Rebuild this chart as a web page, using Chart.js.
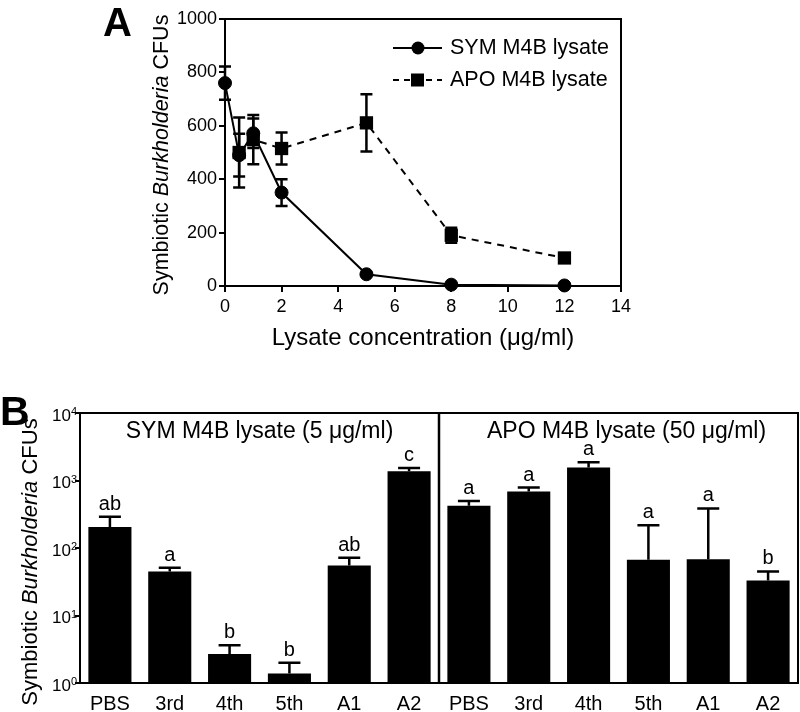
<!DOCTYPE html>
<html>
<head>
<meta charset="utf-8">
<script src="https://cdn.jsdelivr.net/npm/chart.js@4.4.0/dist/chart.umd.min.js"></script>
<style>
    body { margin: 0; background: #fff; }
    #wrap { position: relative; width: 800px; height: 712px; }
    #boxA { position: absolute; left: 0; top: 0; width: 800px; height: 380px; }
    #boxB { position: absolute; left: 0; top: 380px; width: 800px; height: 332px; }
</style>
</head>
<body>
<div id="wrap">
    <div id="boxA"><canvas id="chartA"></canvas></div>
    <div id="boxB"><canvas id="chartB"></canvas></div>
</div>
<script>
// panel A - dose response
const concSym = [0, 0.5, 1, 2, 5, 8, 12];
const symCfu = [760, 490, 572, 350, 44, 5, 2];
const symErr = [62, 80, 55, 50, 6, 4, 2];
const concApo = [0.5, 1, 2, 5, 8, 12];
const apoCfu = [500, 548, 515, 611, 190, 105];
const apoErr = [131, 92, 60, 107, 28, 8];
const legendNames = ['SYM M4B lysate', 'APO M4B lysate'];

// panel B - fractions
const groups = ['PBS', '3rd', '4th', '5th', 'A1', 'A2'];
const symBars = [205, 45, 2.7, 1.38, 55, 1370];
const symBarsTop = [290, 51, 3.64, 1.99, 71.6, 1535];
const symLetters = ['ab', 'a', 'b', 'b', 'ab', 'c'];
const apoBars = [424, 685, 1560, 67, 68, 33];
const apoBarsTop = [496, 786, 1857, 217, 386, 45];
const apoLetters = ['a', 'a', 'a', 'a', 'a', 'b'];
const panelTitles = ['SYM M4B lysate (5 \u03bcg/ml)', 'APO M4B lysate (50 \u03bcg/ml)'];
const logTicks = [1, 10, 100, 1000, 10000];

const FONT = "'Liberation Sans', Arial, Helvetica, sans-serif";
Chart.defaults.font.family = FONT;
Chart.defaults.color = '#000';

function yTitle(ctx, cx, cy, size) {
    const parts = [['Symbiotic ', 'normal'], ['Burkholderia', 'italic'], [' CFUs', 'normal']];
    ctx.save();
    ctx.translate(cx, cy);
    ctx.rotate(-Math.PI / 2);
    ctx.fillStyle = '#000';
    ctx.textBaseline = 'middle';
    ctx.textAlign = 'left';
    let total = 0;
    parts.forEach(p => { ctx.font = p[1] + ' ' + size + 'px ' + FONT; total += ctx.measureText(p[0]).width; });
    let x = -total / 2;
    parts.forEach(p => {
        ctx.font = p[1] + ' ' + size + 'px ' + FONT;
        ctx.fillText(p[0], x, 0);
        x += ctx.measureText(p[0]).width;
    });
    ctx.restore();
}

const panelA = {
    id: 'panelA',
    beforeDatasetsDraw(chart) {
        const ctx = chart.ctx;
        const y = chart.scales.y;
        ctx.save();
        ctx.strokeStyle = '#000';
        ctx.lineWidth = 2.5;
        chart.data.datasets.forEach((ds, di) => {
            const meta = chart.getDatasetMeta(di);
            meta.data.forEach((pt, i) => {
                const v = ds.data[i].y, e = ds.errors[i];
                const hi = y.getPixelForValue(v + e), lo = y.getPixelForValue(Math.max(v - e, 0));
                ctx.beginPath();
                ctx.moveTo(pt.x, hi); ctx.lineTo(pt.x, lo);
                ctx.moveTo(pt.x - 6, hi); ctx.lineTo(pt.x + 6, hi);
                ctx.moveTo(pt.x - 6, lo); ctx.lineTo(pt.x + 6, lo);
                ctx.stroke();
            });
        });
        ctx.restore();
    },
    afterDraw(chart) {
        const ctx = chart.ctx;
        const a = chart.chartArea;
        ctx.save();
        ctx.strokeStyle = '#000';
        ctx.lineWidth = 2;
        ctx.strokeRect(a.left, a.top, a.right - a.left, a.bottom - a.top);

        // legend
        const rows = [48, 80];
        rows.forEach((ry, i) => {
            ctx.beginPath();
            ctx.setLineDash(i === 0 ? [] : [6, 5]);
            ctx.moveTo(393, ry); ctx.lineTo(442, ry);
            ctx.stroke();
            ctx.setLineDash([]);
            ctx.fillStyle = '#000';
            if (i === 0) {
                ctx.beginPath(); ctx.arc(418, ry, 6.5, 0, Math.PI * 2); ctx.fill();
            } else {
                ctx.fillRect(411, ry - 6.5, 13, 13);
            }
            ctx.font = '21.5px ' + FONT;
            ctx.textBaseline = 'middle';
            ctx.textAlign = 'left';
            ctx.fillText(legendNames[i], 450, ry);
        });

        ctx.font = 'bold 40px ' + FONT;
        ctx.textBaseline = 'alphabetic';
        ctx.fillText('A', 103, 36);

        ctx.font = '24px ' + FONT;
        ctx.textAlign = 'center';
        ctx.textBaseline = 'middle';
        ctx.fillText('Lysate concentration (\u03bcg/ml)', (a.left + a.right) / 2, 338);
        ctx.restore();
        yTitle(ctx, 162, 155, 21.5);
    }
};

new Chart(document.getElementById('chartA'), {
    type: 'scatter',
    data: {
        datasets: [{
            label: legendNames[0],
            data: concSym.map((c, i) => ({ x: c, y: symCfu[i] })),
            errors: symErr,
            showLine: true,
            borderColor: '#000',
            backgroundColor: '#000',
            borderWidth: 2,
            pointRadius: 6.5,
            pointBorderWidth: 1,
            clip: false
        }, {
            label: legendNames[1],
            data: concApo.map((c, i) => ({ x: c, y: apoCfu[i] })),
            errors: apoErr,
            showLine: true,
            borderColor: '#000',
            backgroundColor: '#000',
            borderWidth: 2,
            borderDash: [7, 6],
            pointStyle: 'rect',
            pointRadius: 9.4,
            pointBorderWidth: 0,
            clip: false
        }]
    },
    options: {
        animation: false,
        responsive: true,
        maintainAspectRatio: false,
        layout: { padding: { left: 0, top: 19, right: 179, bottom: 0 } },
        plugins: { legend: { display: false }, tooltip: { enabled: false } },
        scales: {
            x: {
                type: 'linear', min: 0, max: 14,
                ticks: { stepSize: 2, font: { size: 18 }, padding: 4, maxRotation: 0, callback: v => String(v) },
                grid: { drawOnChartArea: false, drawTicks: true, tickLength: 6, color: '#000', lineWidth: 2 },
                border: { display: false },
                afterFit(s) { s.height = 94; }
            },
            y: {
                min: 0, max: 1000,
                ticks: { stepSize: 200, font: { size: 18 }, padding: 2, callback: v => String(v) },
                grid: { drawOnChartArea: false, drawTicks: true, tickLength: 6, color: '#000', lineWidth: 2 },
                border: { display: false },
                afterFit(s) { s.width = 225; }
            }
        }
    },
    plugins: [panelA]
});

const tops = symBarsTop.concat(apoBarsTop);
const letters = symLetters.concat(apoLetters);

const panelB = {
    id: 'panelB',
    afterDatasetsDraw(chart) {
        const ctx = chart.ctx;
        const y = chart.scales.y;
        const meta = chart.getDatasetMeta(0);
        ctx.save();
        ctx.strokeStyle = '#000';
        ctx.fillStyle = '#000';
        ctx.lineWidth = 2.5;
        ctx.font = '20px ' + FONT;
        ctx.textAlign = 'center';
        ctx.textBaseline = 'alphabetic';
        meta.data.forEach((bar, i) => {
            const t = y.getPixelForValue(tops[i]);
            ctx.beginPath();
            ctx.moveTo(bar.x, bar.y); ctx.lineTo(bar.x, t);
            ctx.moveTo(bar.x - 11, t); ctx.lineTo(bar.x + 11, t);
            ctx.stroke();
            ctx.fillText(letters[i], bar.x, t - 7);
        });
        ctx.restore();
    },
    afterDraw(chart) {
        const ctx = chart.ctx;
        const a = chart.chartArea;
        const x = chart.scales.x, y = chart.scales.y;
        ctx.save();
        ctx.strokeStyle = '#000';
        ctx.lineWidth = 2;
        ctx.strokeRect(a.left, a.top, a.right - a.left, a.bottom - a.top);
        const mid = (x.getPixelForValue(5) + x.getPixelForValue(6)) / 2;
        ctx.lineWidth = 2.5;
        ctx.beginPath(); ctx.moveTo(mid, a.top); ctx.lineTo(mid, a.bottom); ctx.stroke();

        ctx.fillStyle = '#000';
        ctx.font = '23px ' + FONT;
        ctx.textAlign = 'center';
        ctx.textBaseline = 'middle';
        ctx.fillText(panelTitles[0], (a.left + mid) / 2, 52);
        ctx.fillText(panelTitles[1], (mid + a.right) / 2 + 8, 52);

        // log tick labels 10^n
        logTicks.forEach((v, i) => {
            const py = y.getPixelForValue(v);
            ctx.font = '11px ' + FONT;
            ctx.textAlign = 'right';
            ctx.textBaseline = 'alphabetic';
            const sup = String(i);
            const sw = ctx.measureText(sup).width;
            ctx.fillText(sup, 77, py + 2);
            ctx.font = '17px ' + FONT;
            ctx.textBaseline = 'middle';
            ctx.fillText('10', 77 - sw, py + 3);
        });

        ctx.font = 'bold 41px ' + FONT;
        ctx.textAlign = 'left';
        ctx.textBaseline = 'alphabetic';
        ctx.fillText('B', 0, 45);
        ctx.restore();
        yTitle(ctx, 31, 182, 22);
    }
};

new Chart(document.getElementById('chartB'), {
    type: 'bar',
    data: {
        labels: groups.concat(groups),
        datasets: [{
            data: symBars.concat(apoBars),
            backgroundColor: '#000',
            borderWidth: 0,
            barPercentage: 0.72,
            categoryPercentage: 1
        }]
    },
    options: {
        animation: false,
        responsive: true,
        maintainAspectRatio: false,
        layout: { padding: { left: 0, top: 33, right: 2, bottom: 0 } },
        plugins: { legend: { display: false }, tooltip: { enabled: false } },
        scales: {
            x: {
                ticks: { font: { size: 20 }, padding: 9, maxRotation: 0, autoSkip: false },
                grid: { display: false, drawTicks: false },
                border: { display: false },
                afterFit(s) { s.height = 29; }
            },
            y: {
                type: 'logarithmic', min: 1, max: 10000,
                afterBuildTicks(s) { s.ticks = logTicks.map(v => ({ value: v })); },
                ticks: { display: false },
                grid: { drawOnChartArea: false, drawTicks: true, tickLength: 5, color: '#000', lineWidth: 2 },
                border: { display: false },
                afterFit(s) { s.width = 80; }
            }
        }
    },
    plugins: [panelB]
});
</script>
</body>
</html>
